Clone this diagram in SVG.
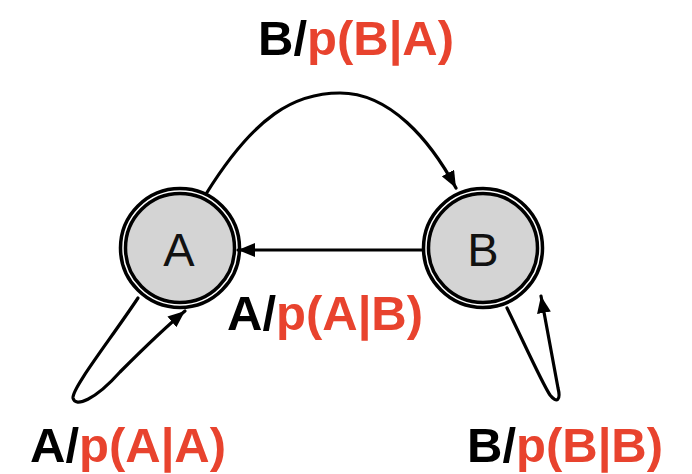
<svg xmlns="http://www.w3.org/2000/svg" width="692" height="474" viewBox="0 0 692 474">
  <style>
    .ring { fill: none; stroke: #000; stroke-width: 3.5; }
    .core { fill: #d4d4d4; stroke: #000; stroke-width: 3.5; }
    .name { font-family: "Liberation Sans", Arial, sans-serif; font-size: 47px; fill: #111; text-anchor: middle; }
    .edge { fill: none; stroke: #000; stroke-width: 3.2; stroke-linecap: round; }
    .lbl { font-family: "Liberation Sans", Arial, sans-serif; font-size: 49px; font-weight: bold; fill: #000; }
    .prob { fill: #e8432e; }
  </style>
  <defs>
    <marker id="head" markerUnits="userSpaceOnUse" markerWidth="18" markerHeight="14" refX="17" refY="7" orient="auto">
      <path d="M0,0 L17,7 L0,14 Z" fill="#000"/>
    </marker>
  </defs>

  <rect width="692" height="474" fill="#fff"/>

  <g id="connectors">
    <!-- A -> B (upper arc) -->
    <path class="edge" d="M206,194 C255,115 295,93 340,93 C390,93 430,140 456,188" marker-end="url(#head)"/>
    <!-- B -> A (straight) -->
    <path class="edge" d="M422,250 L238,250" marker-end="url(#head)"/>
    <!-- A self loop -->
    <path class="edge" d="M138,298 C110,340 72,388 73,398 C75,408 95,400 120,372 C140,352 162,330 185,311" marker-end="url(#head)"/>
    <!-- B self loop -->
    <path class="edge" d="M507,308 C525,345 543,385 550,395 C557,404 561,400 558,388 C553,360 547,330 541,296" marker-end="url(#head)"/>
  </g>

  <g id="node-A">
    <circle class="ring" cx="180" cy="248" r="59.5"/>
    <circle class="core" cx="180" cy="248" r="54.5"/>
    <text class="name" x="179" y="266">A</text>
  </g>

  <g id="node-B">
    <circle class="ring" cx="483" cy="248" r="59.5"/>
    <circle class="core" cx="483" cy="248" r="54.5"/>
    <text class="name" x="483" y="266">B</text>
  </g>

  <g id="labels">
    <text class="lbl" x="258" y="55">B/<tspan class="prob">p(B|A)</tspan></text>
    <text class="lbl" x="227" y="330">A/<tspan class="prob">p(A|B)</tspan></text>
    <text class="lbl" x="30" y="462">A/<tspan class="prob">p(A|A)</tspan></text>
    <text class="lbl" x="467" y="462">B/<tspan class="prob">p(B|B)</tspan></text>
  </g>
</svg>
